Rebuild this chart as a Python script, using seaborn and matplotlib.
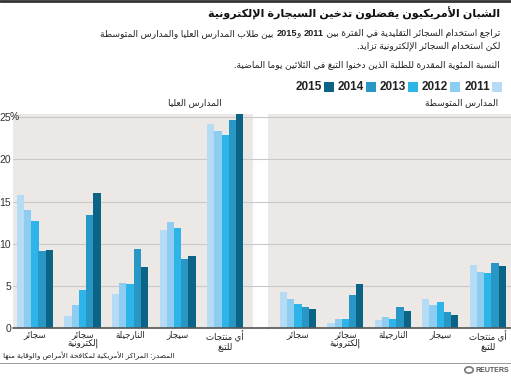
import re
import pandas as pd
import matplotlib
matplotlib.use("Agg")
import matplotlib.pyplot as plt
import seaborn as sns
from matplotlib.lines import Line2D
from matplotlib.patches import Rectangle, Circle

# ---------------------------------------------------------------
# data
# ---------------------------------------------------------------
years = ["2011", "2012", "2013", "2014", "2015"]
year_colors = ["#b5dcf4", "#8ccdf1", "#2db4e8", "#2897c6", "#0b6386"]

categories = ["سجائر", "سجائر\nإلكترونية", "النارجيلة", "سيجار", "أي منتجات\nللتبغ"]

high_school = {
    "سجائر": [15.8, 14.0, 12.7, 9.2, 9.3],
    "سجائر\nإلكترونية": [1.5, 2.8, 4.5, 13.4, 16.0],
    "النارجيلة": [4.1, 5.4, 5.2, 9.4, 7.2],
    "سيجار": [11.6, 12.6, 11.9, 8.2, 8.6],
    "أي منتجات\nللتبغ": [24.2, 23.3, 22.9, 24.6, 25.3],
}
middle_school = {
    "سجائر": [4.3, 3.5, 2.9, 2.5, 2.3],
    "سجائر\nإلكترونية": [0.6, 1.1, 1.1, 3.9, 5.3],
    "النارجيلة": [1.0, 1.3, 1.1, 2.5, 2.0],
    "سيجار": [3.5, 2.8, 3.1, 1.9, 1.6],
    "أي منتجات\nللتبغ": [7.5, 6.7, 6.5, 7.7, 7.4],
}

yticks = [0, 5, 10, 15, 20, 25]

title = "الشبان الأمريكيون يفضلون تدخين السيجارة الإلكترونية"
sub1_parts = [("تراجع استخدام السجائر التقليدية في الفترة بين ", False), ("2011", True),
              (" و", False), ("2015", True), (" بين طلاب المدارس العليا والمدارس المتوسطة", False)]
sub2 = "لكن استخدام السجائر الإلكترونية تزايد."
sub3 = "النسبة المئوية المقدرة للطلبة الذين دخنوا التبغ في الثلاثين يوما الماضية."
hs_label = "المدارس العليا"
ms_label = "المدارس المتوسطة"
source = "المصدر: المراكز الأمريكية لمكافحة الأمراض والوقاية منها"

# ---------------------------------------------------------------
# tiny arabic shaper (matplotlib does no shaping / bidi)
# ---------------------------------------------------------------
FOUR = {0x0626: 0xFE89, 0x0628: 0xFE8F, 0x062A: 0xFE95, 0x062B: 0xFE99, 0x062C: 0xFE9D,
        0x062D: 0xFEA1, 0x062E: 0xFEA5, 0x0633: 0xFEB1, 0x0634: 0xFEB5, 0x0635: 0xFEB9,
        0x0636: 0xFEBD, 0x0637: 0xFEC1, 0x0638: 0xFEC5, 0x0639: 0xFEC9, 0x063A: 0xFECD,
        0x0641: 0xFED1, 0x0642: 0xFED5, 0x0643: 0xFED9, 0x0644: 0xFEDD, 0x0645: 0xFEE1,
        0x0646: 0xFEE5, 0x0647: 0xFEE9, 0x064A: 0xFEF1}
TWO = {0x0622: 0xFE81, 0x0623: 0xFE83, 0x0624: 0xFE85, 0x0625: 0xFE87, 0x0627: 0xFE8D,
       0x0629: 0xFE93, 0x062F: 0xFEA9, 0x0630: 0xFEAB, 0x0631: 0xFEAD, 0x0632: 0xFEAF,
       0x0648: 0xFEED, 0x0649: 0xFEEF}
LAMALEF = {"آ": 0xFEF5, "أ": 0xFEF7, "إ": 0xFEF9, "ا": 0xFEFB}


def shape(s):
    toks = []
    i = 0
    while i < len(s):
        if s[i] == "ل" and i + 1 < len(s) and s[i + 1] in LAMALEF:
            toks.append(("LA", s[i + 1]))
            i += 2
        else:
            toks.append(("C", s[i]))
            i += 1

    def dual(t):
        return t[0] == "C" and ord(t[1]) in FOUR

    def joining(t):
        return t[0] == "LA" or ord(t[1]) in FOUR or ord(t[1]) in TWO

    out = []
    for k, t in enumerate(toks):
        prev = k > 0 and dual(toks[k - 1])
        nxt = k + 1 < len(toks) and joining(toks[k + 1])
        if t[0] == "LA":
            out.append(chr(LAMALEF[t[1]] + (1 if prev else 0)))
            continue
        c = ord(t[1])
        if c in FOUR:
            b = FOUR[c]
            if prev and nxt:
                out.append(chr(b + 3))
            elif prev:
                out.append(chr(b + 1))
            elif nxt:
                out.append(chr(b + 2))
            else:
                out.append(chr(b))
        elif c in TWO:
            out.append(chr(TWO[c] + (1 if prev else 0)))
        else:
            out.append(t[1])
    return "".join(out)


def ar(s):
    lines = []
    for line in s.split("\n"):
        v = shape(line)[::-1]
        v = re.sub(r"[0-9A-Za-z]+", lambda m: m.group(0)[::-1], v)
        lines.append(v)
    return "\n".join(lines)


# ---------------------------------------------------------------
# figure
# ---------------------------------------------------------------
sns.set_style("white")
plt.rcParams["font.family"] = ["Liberation Sans", "DejaVu Sans"]

W, H = 511, 378
fig = plt.figure(figsize=(W / 100, H / 100), dpi=100)
bg = "#ece8e6"


def long_df(d):
    rows = []
    for cat in categories:
        for y, v in zip(years, d[cat]):
            rows.append({"cat": cat, "year": y, "value": v})
    return pd.DataFrame(rows)


y0 = (H - 328.3) / H
ax_h = 25.3 * 8.452 / H
ax1 = fig.add_axes([13 / W, y0, (268 - 13) / W, ax_h])
ax2 = fig.add_axes([268 / W, y0, (W - 268) / W, ax_h])

for ax, d, xl in [(ax1, high_school, (-0.46, 4.9)), (ax2, middle_school, (-0.63, 4.49))]:
    sns.barplot(data=long_df(d), x="cat", y="value", hue="year", order=categories,
                hue_order=years, palette=year_colors, saturation=1, width=0.76,
                linewidth=0, legend=False, errorbar=None, ax=ax)
    ax.set_facecolor(bg)
    ax.set_xlim(*xl)
    ax.set_ylim(0, 25.3)
    ax.set_axisbelow(True)
    ax.yaxis.grid(True, color="#c9c9c9", linewidth=0.8)
    ax.set_yticks(yticks)
    ax.set_xlabel("")
    ax.set_ylabel("")
    for sp in ax.spines.values():
        sp.set_visible(False)
    ax.axhline(0, color="#555555", linewidth=1.2, zorder=5, clip_on=False)
    ax.set_xticks(range(len(categories)))
    ax.set_xticklabels([ar(c) for c in categories], fontsize=6.2, color="#222222",
                       linespacing=0.95)
    ax.tick_params(axis="x", length=0, pad=1.5)
    ax.tick_params(axis="y", length=0)

# white gap between the two panels (grid lines run through it)
ax1.axvspan(4.59, 4.9, color="white", zorder=0.2, linewidth=0)

ax1.set_yticklabels([str(t) for t in yticks], fontsize=7.5, color="#333333", ha="right")
ax1.tick_params(axis="y", pad=1.5)
ax1.annotate("%", xy=(0, 25), xycoords=("axes fraction", "data"), xytext=(-2.5, 0),
             textcoords="offset points", ha="left", va="center", fontsize=7.5,
             color="#333333")
ax2.set_yticklabels([])

# ---------------------------------------------------------------
# text
# ---------------------------------------------------------------
fig.add_artist(Line2D([0, 1], [1 - 1 / H, 1 - 1 / H], color="#333333", linewidth=2))
fig.text(500 / W, 1 - 13 / H, ar(title), ha="right", va="center", fontsize=8,
         fontweight="bold", color="#111111")

# first subtitle line with bold years, placed right to left
renderer = fig.canvas.get_renderer()
x = 500
for txt, bold in sub1_parts:
    t = fig.text(x / W, 1 - 34 / H, ar(txt), ha="right", va="center", fontsize=6.6,
                 fontweight="bold" if bold else "normal", color="#222222")
    x -= t.get_window_extent(renderer).width

fig.text(500 / W, 1 - 46 / H, ar(sub2), ha="right", va="center", fontsize=6.6,
         color="#222222")
fig.text(500 / W, 1 - 65 / H, ar(sub3), ha="right", va="center", fontsize=6.6,
         color="#222222")

fig.text(222 / W, 1 - 103 / H, ar(hs_label), ha="right", va="center", fontsize=6.5,
         color="#222222")
fig.text(498 / W, 1 - 103 / H, ar(ms_label), ha="right", va="center", fontsize=6.5,
         color="#222222")

# legend: box then year label to its left, running right to left
x = 502
for y, c in zip(years, year_colors):
    fig.add_artist(Rectangle(((x - 10) / W, 1 - 92 / H), 10 / W, 10 / H, facecolor=c,
                             edgecolor="none", transform=fig.transFigure))
    t = fig.text((x - 12) / W, 1 - 87 / H, y, ha="right", va="center", fontsize=8.5,
                 fontweight="bold", color="#222222")
    x = x - 12 - t.get_window_extent(renderer).width - 4

fig.text(3 / W, 1 - 356 / H, ar(source), ha="left", va="center", fontsize=5.3,
         color="#222222")
fig.add_artist(Line2D([0, 1], [1 - 363 / H, 1 - 363 / H], color="#9a9a9a", linewidth=0.7))

fig.add_artist(Circle((469 / W, 1 - 370 / H), 4.2 / W, transform=fig.transFigure,
                      facecolor="none", edgecolor="#777777", linewidth=1.2))
fig.text(509 / W, 1 - 370 / H, "REUTERS", ha="right", va="center", fontsize=5,
         fontweight="bold", color="#555555")

fig.savefig("out.png", dpi=100)
